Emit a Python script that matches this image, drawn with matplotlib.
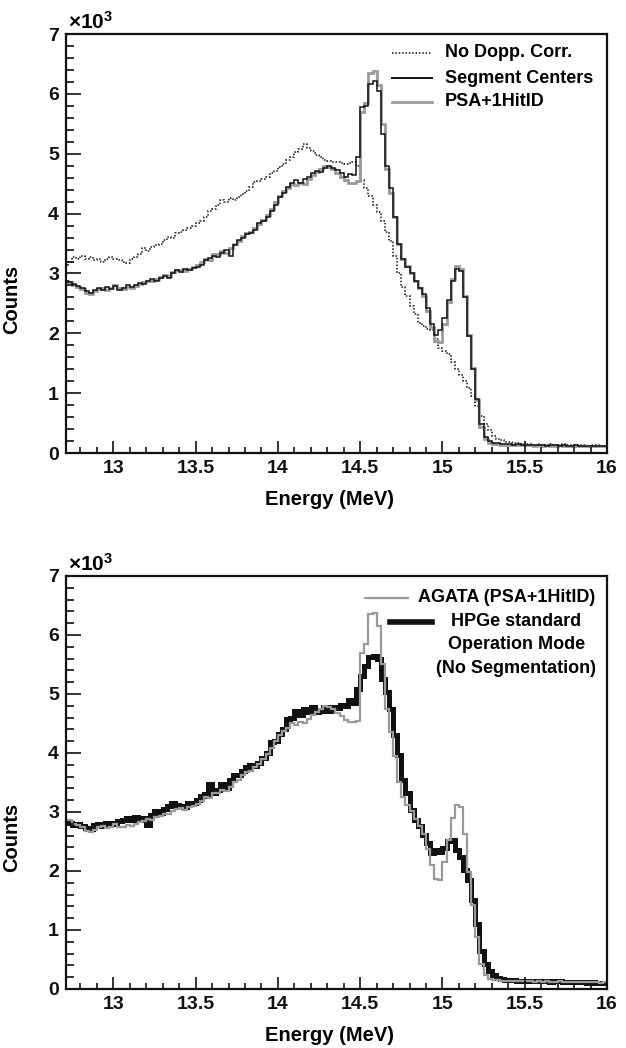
"""Gamma spectra around 15 MeV: Doppler-correction methods (top) and AGATA vs plain HPGe (bottom)."""

import numpy as np
import matplotlib

matplotlib.use("Agg")
import matplotlib.pyplot as plt
from matplotlib.lines import Line2D
from matplotlib.ticker import FixedLocator, MultipleLocator

plt.rcParams["font.family"] = ["Liberation Sans", "DejaVu Sans"]
plt.rcParams["font.weight"] = "bold"
plt.rcParams["mathtext.fontset"] = "custom"
plt.rcParams["mathtext.rm"] = "Liberation Sans"
plt.rcParams["mathtext.bf"] = "Liberation Sans:bold"

# histogram binning (MeV)
E_LO, E_HI, E_STEP = 12.7, 16.0, 0.025
EDGES = np.round(np.arange(E_LO, E_HI + E_STEP / 2, E_STEP), 3)
X_TICKS = [13, 13.5, 14, 14.5, 15, 15.5, 16]
X_TICK_LABELS = ["13", "13.5", "14", "14.5", "15", "15.5", "16"]
Y_TICKS = [0, 1000, 2000, 3000, 4000, 5000, 6000, 7000]
Y_TICK_LABELS = ["0", "1", "2", "3", "4", "5", "6", "7"]

# counts per bin, 4 bins per 0.1 MeV, one row per 0.1 MeV from 12.7 to 16.0
NO_DOPP = [
    3150, 3200, 3280, 3240,  3300, 3250, 3280, 3220,  3250, 3200, 3240, 3280,
    3250, 3220, 3200, 3170,  3250, 3280, 3320, 3420,  3380, 3450, 3480, 3500,
    3560, 3610, 3600, 3680,  3700, 3720, 3760, 3800,  3840, 3880, 3950, 4050,
    4080, 4150, 4220, 4200,  4260, 4230, 4270, 4320,  4380, 4450, 4530, 4550,
    4580, 4620, 4680, 4720,  4780, 4830, 4900, 4950,  5030, 5080, 5170, 5100,
    5040, 4980, 4940, 4900,  4880, 4870, 4860, 4840,  4830, 4850, 4870, 4800,
    4560, 4420, 4300, 4150,  4030, 3880, 3700, 3540,  3300, 3000, 2780, 2620,
    2450, 2330, 2180, 2130,  2080, 2050, 1900, 1750,  1700, 1650, 1520, 1400,
    1300, 1200, 1080, 950,   780, 620, 480, 380,     290, 240, 210, 190,
    180, 170, 160, 150,      150, 145, 140, 150,     140, 135, 145, 140,
    135, 145, 130, 140,      140, 130, 135, 125,     130, 140, 120, 125,
]
SEG_CENTERS = [
    2880, 2850, 2820, 2790,  2760, 2700, 2680, 2720,  2750, 2730, 2770, 2740,
    2790, 2720, 2760, 2800,  2780, 2800, 2840, 2820,  2870, 2900, 2880, 2930,
    2950, 2920, 3000, 3060,  3020, 3080, 3060, 3090,  3100, 3150, 3230, 3260,
    3300, 3280, 3350, 3390,  3300, 3480, 3560, 3600,  3660, 3680, 3720, 3850,
    3880, 3950, 4050, 4150,  4280, 4350, 4450, 4520,  4560, 4520, 4580, 4620,
    4680, 4720, 4700, 4760,  4800, 4760, 4730, 4680,  4620, 4660, 4650, 4950,
    5780, 5800, 6170, 6220,  6050, 5330, 4800, 4420,  3950, 3500, 3250, 3100,
    3000, 2870, 2750, 2650,  2420, 2150, 1980, 2050,  2250, 2550, 2880, 3080,
    3040, 2600, 1950, 1400,  900, 480, 270, 200,      170, 160, 150, 145,
    150, 140, 145, 140,      135, 140, 130, 135,      130, 125, 130, 135,
    120, 130, 125, 120,      130, 120, 115, 125,      120, 110, 125, 115,
]
PSA_1HIT = [
    2870, 2860, 2800, 2780,  2740, 2680, 2660, 2700,  2740, 2760, 2730, 2750,
    2800, 2750, 2740, 2780,  2760, 2790, 2830, 2850,  2880, 2870, 2910, 2940,
    2970, 2960, 3020, 3050,  3060, 3040, 3080, 3110,  3140, 3190, 3250, 3230,
    3320, 3330, 3380, 3350,  3420, 3500, 3540, 3620,  3680, 3700, 3760, 3820,
    3900, 3980, 4080, 4200,  4300, 4380, 4430, 4500,  4480, 4520, 4500, 4580,
    4650, 4700, 4740, 4800,  4780, 4740, 4680, 4620,  4560, 4520, 4520, 4550,
    5700, 5850, 6350, 6380,  6150, 5500, 4750, 4350,  3950, 3500, 3250, 3120,
    3010, 2880, 2760, 2620,  2380, 2100, 1870, 1850,  2150, 2520, 2900, 3120,
    3080, 2620, 1980, 1420,  880, 430, 230, 170,      150, 145, 140, 140,
    135, 140, 130, 135,      130, 135, 125, 130,      125, 130, 120, 125,
    130, 120, 125, 115,      120, 125, 115, 120,      115, 120, 110, 120,
]
HPGE = [
    2850, 2820, 2780, 2800,  2760, 2730, 2720, 2780,  2800, 2760, 2820, 2810,
    2790, 2850, 2870, 2900,  2860, 2920, 2870, 2900,  2780, 2950, 3010, 2990,
    3050, 3100, 3150, 3120,  3100, 3080, 3150, 3160,  3200, 3270, 3300, 3470,
    3320, 3380, 3470, 3400,  3540, 3630, 3620, 3700,  3770, 3800, 3780, 3830,
    3910, 4000, 4190, 4200,  4330, 4400, 4580, 4600,  4720, 4650, 4750, 4700,
    4780, 4700, 4720, 4780,  4720, 4780, 4760, 4810,  4800, 4890, 4850, 5090,
    5310, 5480, 5620, 5650,  5600, 5260, 5030, 4750,  4300, 3970, 3550, 3320,
    3040, 2870, 2760, 2610,  2470, 2300, 2360, 2330,  2390, 2500, 2530, 2360,
    2240, 2020, 1850, 1510,  1110, 650, 430, 310,     230, 190, 170, 160,
    150, 145, 140, 140,      135, 140, 130, 135,      130, 135, 125, 130,
    130, 125, 120, 125,      120, 115, 120, 110,      115, 110, 105, 110,
]

BLACK = "#111111"
GRAY = "#9a9a9a"
FS_TICK = 14
FS_LABEL = 14.5
FS_LEG = 13


def style_axes(ax, xlabel_y):
    ax.set_xlim(12.712, 16.0)
    ax.set_ylim(0, 7000)
    ax.xaxis.set_major_locator(FixedLocator(X_TICKS))
    ax.set_xticklabels(X_TICK_LABELS)
    ax.xaxis.set_minor_locator(MultipleLocator(0.1))
    ax.yaxis.set_major_locator(FixedLocator(Y_TICKS))
    ax.set_yticklabels(Y_TICK_LABELS)
    ax.yaxis.set_minor_locator(MultipleLocator(200))
    ax.tick_params(axis="both", which="both", direction="in", top=False, right=False,
                   width=1.2, colors=BLACK, labelsize=FS_TICK)
    ax.tick_params(axis="x", which="major", length=8.5, pad=5)
    ax.tick_params(axis="x", which="minor", length=4.3)
    ax.tick_params(axis="y", which="major", length=10.5, pad=5)
    ax.tick_params(axis="y", which="minor", length=5.8)
    for lab in ax.get_xticklabels() + ax.get_yticklabels():
        lab.set_fontweight("bold")
    for sp in ax.spines.values():
        sp.set_linewidth(1.6)
        sp.set_color(BLACK)
    ax.set_xlabel("Energy (MeV)", fontsize=FS_LABEL, fontweight="bold")
    ax.set_ylabel("Counts", fontsize=FS_LABEL, fontweight="bold")
    ax.xaxis.set_label_coords(0.488, xlabel_y)
    ax.yaxis.set_label_coords(-0.083, 0.366)
    ax.text(0.003, 1.002, r"$\times\mathbf{10^{3}}$", transform=ax.transAxes,
            fontsize=15, ha="left", va="bottom")


def legend_line(ax, x0, x1, y, **kw):
    ax.add_line(Line2D([x0, x1], [y, y], transform=ax.transAxes, **kw))


def plot(path):
    fig = plt.figure(figsize=(6.26, 10.48), dpi=100)
    ax_top = fig.add_axes((0.1054, 0.5677, 0.8642, 0.3998))
    ax_bot = fig.add_axes((0.1054, 0.0563, 0.8642, 0.3941))

    # Top: Doppler-correction comparison.
    ax_top.stairs(NO_DOPP, EDGES, baseline=None, color=BLACK, lw=1.1, ls=(0, (1, 1.2)))
    ax_top.stairs(PSA_1HIT, EDGES, baseline=None, color=GRAY, lw=2.0)
    ax_top.stairs(SEG_CENTERS, EDGES, baseline=None, color=BLACK, lw=1.1)
    style_axes(ax_top, -0.088)
    legend_line(ax_top, 0.603, 0.677, 0.955, color=BLACK, lw=1.1, ls=(0, (1, 1.2)))
    legend_line(ax_top, 0.603, 0.677, 0.895, color=BLACK, lw=1.4)
    legend_line(ax_top, 0.603, 0.677, 0.838, color=GRAY, lw=2.0)
    for y, label in ((0.955, "No Dopp. Corr."), (0.895, "Segment Centers"),
                     (0.838, "PSA+1HitID")):
        ax_top.text(0.700, y, label, transform=ax_top.transAxes, fontsize=FS_LEG,
                    fontweight="bold", ha="left", va="center")

    # Bottom: AGATA vs HPGe in standard mode.
    ax_bot.stairs(HPGE, EDGES, baseline=None, color=BLACK, lw=3.6)
    ax_bot.stairs(PSA_1HIT, EDGES, baseline=None, color=GRAY, lw=1.6)
    style_axes(ax_bot, -0.09)
    legend_line(ax_bot, 0.553, 0.632, 0.947, color=GRAY, lw=1.6)
    ax_bot.text(0.651, 0.947, "AGATA (PSA+1HitID)", transform=ax_bot.transAxes,
                fontsize=FS_LEG, fontweight="bold", ha="left", va="center")
    legend_line(ax_bot, 0.599, 0.677, 0.889, color=BLACK, lw=4.0)
    for y, label in ((0.889, "HPGe standard"), (0.833, "Operation Mode"),
                     (0.775, "(No Segmentation)")):
        ax_bot.text(0.832, y, label, transform=ax_bot.transAxes, fontsize=FS_LEG,
                    fontweight="bold", ha="center", va="center")

    fig.savefig(path, dpi=100)


def main():
    plot("out.png")


if __name__ == "__main__":
    main()
